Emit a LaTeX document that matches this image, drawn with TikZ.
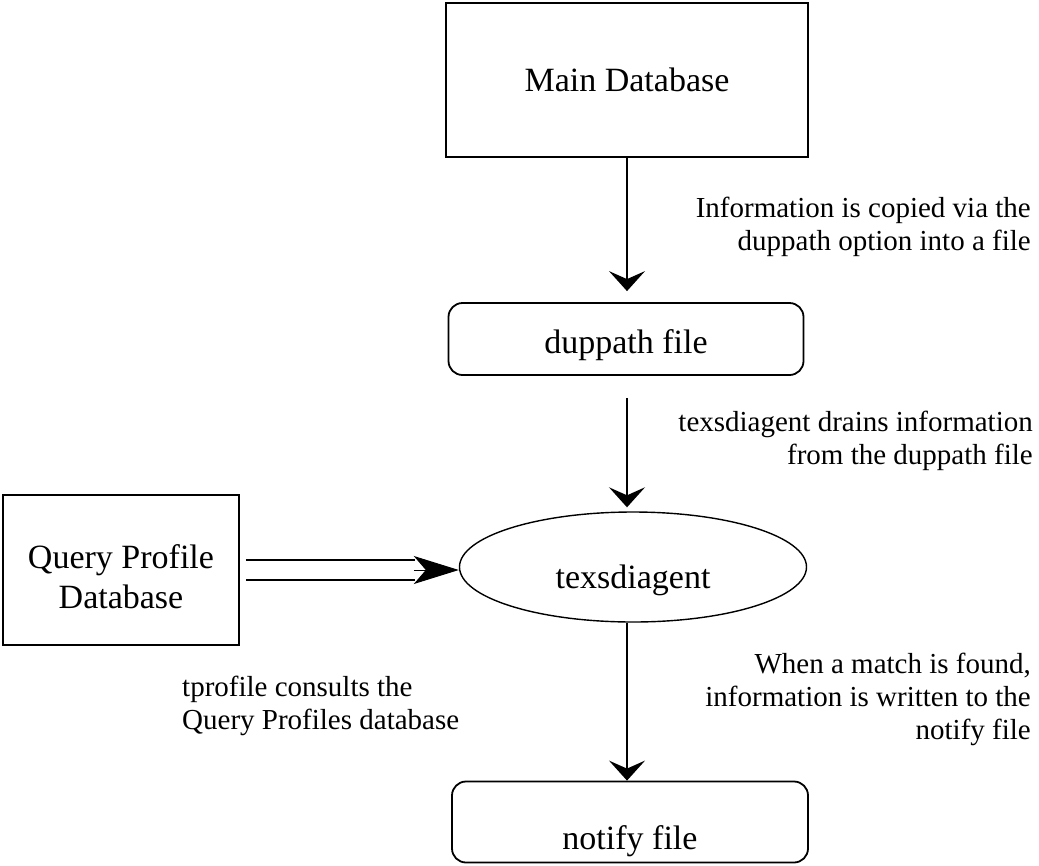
\documentclass[tikz,border=0pt]{standalone}
\usepackage{fontspec}
\setmainfont{Liberation Serif}
\usetikzlibrary{shapes.geometric,arrows.meta}
\begin{document}
\begin{tikzpicture}[x=1pt,y=-1pt,
  box/.style={draw, line width=1.8pt, inner sep=0pt, font=\fontsize{34}{40}\selectfont, align=center},
  rbox/.style={box, rounded corners=14pt},
  oval/.style={draw, ellipse, line width=1.4pt, inner sep=0pt, font=\fontsize{34}{40}\selectfont},
  note/.style={font=\fontsize{29}{33}\selectfont, inner sep=0pt},
  flow/.style={line width=1.6pt, -{Stealth[length=20pt,width=36pt,inset=8pt]}},
  dbl/.style={line width=1.8pt, double distance=18pt},
  dhead/.style={line width=1pt, -{Stealth[length=45pt,width=28pt,inset=12pt]}}]
\useasboundingbox (0,0) rectangle (1039,865);
\node[box, minimum width=362pt, minimum height=154pt] (main) at (627,80) {Main Database};
\node[rbox, minimum width=355pt, minimum height=72pt, text height=28pt, text depth=0pt] (dup) at (626,339) {duppath file};
\node[oval, minimum width=347pt, minimum height=110pt, text height=42pt, text depth=0pt] (td) at (633,567) {texsdiagent};
\node[box, minimum width=236pt, minimum height=150pt] (qp) at (121,570) {\rule{0pt}{37pt}Query Profile\\Database};
\node[rbox, minimum width=356pt, minimum height=81pt, text height=54pt, text depth=0pt] (nf) at (630,822) {notify file};
\node[note, anchor=east, align=right] (n1) at (1031,227) {Information is copied via the\\duppath option into a file};
\node[note, anchor=east, align=right] (n2) at (1033,441) {texsdiagent drains information\\from the duppath file};
\node[note, anchor=east, align=right] (n3) at (1031,699) {When a match is found,\\information is written to the\\notify file};
\node[note, anchor=west, align=left] (n4) at (182,706) {tprofile consults the\\Query Profiles database};
\draw[flow, shorten >=11pt] (main.south) -- (main.south |- dup.north);
\draw[flow, shorten <=22pt, shorten >=4pt] (main.south |- dup.south) -- (main.south |- td.north);
\draw[flow] (main.south |- td.south) -- (main.south |- nf.north);
\draw[dbl, shorten <=6pt, shorten >=44pt] (qp.east) -- (qp.east -| td.west);
\draw[dhead] ([xshift=-45pt]qp.east -| td.west) -- (qp.east -| td.west);
\end{tikzpicture}
\end{document}
